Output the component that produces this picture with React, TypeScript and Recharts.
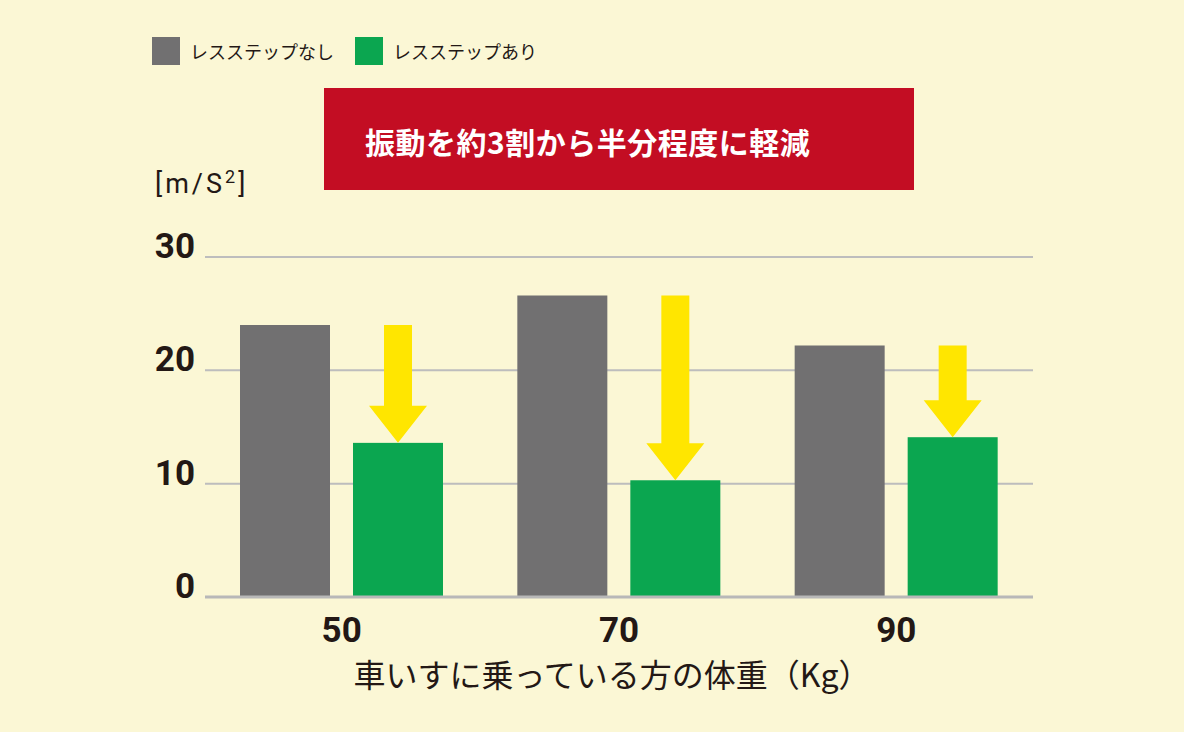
import { BarChart, Bar, XAxis, YAxis, CartesianGrid, Legend, Customized } from 'recharts';

const weights = ['50', '70', '90'];
const withoutStep = [24.0, 26.6, 22.2];
const withStep = [13.6, 10.3, 14.1];
const yTicks = [0, 10, 20, 30];

const seriesNames = ['レスステップなし', 'レスステップあり'];
const headline = '振動を約3割から半分程度に軽減';
const xTitle = '車いすに乗っている方の体重（Kg）';

const data = weights.map((w, i) => ({
  weight: w,
  without: withoutStep[i],
  with: withStep[i],
}));

const BG = '#FBF7D5';
const GRAY = '#717071';
const GREEN = '#0BA650';
const RED = '#C30D23';
const YELLOW = '#FFE600';
const INK = '#231815';
const JP = '"Noto Sans CJK JP", sans-serif';
const NUM = 'Roboto, "Noto Sans CJK JP", sans-serif';

const YTick = (props: any) => {
  const { y, payload } = props;
  return (
    <text x={195} y={y + 1} textAnchor='end' fontFamily={NUM} fontWeight={700} fontSize={35} fill={INK}>
      {payload.value}
    </text>
  );
};

const XTick = (props: any) => {
  const { x, y, payload } = props;
  return (
    <text x={x} y={y + 43} textAnchor='middle' fontFamily={NUM} fontWeight={700} fontSize={35} fill={INK}>
      {payload.value}
    </text>
  );
};

// green bar plus the yellow arrow dropping from the gray bar's top
const GreenWithArrow = (props: any) => {
  const { x, y, width, height, payload } = props;
  const v = payload.with;
  const bottom = y + height;
  const perUnit = height / v;
  const from = bottom - payload.without * perUnit;
  const cx = x + width / 2;
  const headH = 37;
  const shaft = 14;
  const head = 29;
  const pts = [
    [cx - shaft, from],
    [cx + shaft, from],
    [cx + shaft, y - headH],
    [cx + head, y - headH],
    [cx, y],
    [cx - head, y - headH],
    [cx - shaft, y - headH],
  ]
    .map((p) => p.join(','))
    .join(' ');
  return (
    <g>
      <rect x={x} y={y} width={width} height={height} fill={GREEN} />
      <polygon points={pts} fill={YELLOW} />
    </g>
  );
};

const LegendBox = () => (
  <div style={{ display: 'flex', alignItems: 'center', fontFamily: JP, fontSize: 18, color: INK }}>
    {seriesNames.map((n, i) => (
      <div key={n} style={{ display: 'flex', alignItems: 'center', marginRight: 21 }}>
        <span style={{ width: 28, height: 28, background: i === 0 ? GRAY : GREEN, marginRight: 10 }} />
        <span>{n}</span>
      </div>
    ))}
  </div>
);

const Extras = () => (
  <g>
    <rect x={324} y={88} width={590} height={102} fill={RED} />
    <text x={365} y={141} dominantBaseline='central' fontFamily={JP} fontWeight={700} fontSize={30} letterSpacing={0.5} fill='#fff'>
      {headline}
    </text>
    <text x={155} y={193} fontFamily={NUM} fontSize={27} letterSpacing={3} fill={INK}>
      [m/S<tspan fontSize={18} dy={-10}>2</tspan>
      <tspan dy={10}>]</tspan>
    </text>
  </g>
);

const App = () => {
  return (
    <div style={{ position: 'absolute', left: 0, top: 0, width: 1184, height: 732, background: BG }}>
      <BarChart
        width={1184}
        height={732}
        data={data}
        margin={{ top: 257, right: 151, bottom: 0, left: 0 }}
        barSize={90}
        barGap={23}
      >
        <CartesianGrid vertical={false} stroke='#BDBDBD' strokeWidth={2} />
        <XAxis
          dataKey='weight'
          height={135}
          padding={{ left: -2, right: -2 }}
          tickLine={false}
          tickSize={0}
          axisLine={{ stroke: '#B8B8B8', strokeWidth: 3 }}
          tick={<XTick />}
          label={{
            content: (p: any) => {
              const vb = p.viewBox;
              return (
                <text x={612} y={vb.y + 90} textAnchor='middle' fontFamily={JP} fontSize={32} fill={INK}>
                  {xTitle}
                </text>
              );
            },
          }}
        />
        <YAxis
          width={205}
          domain={[0, 30]}
          ticks={yTicks}
          tickLine={false}
          axisLine={false}
          tick={<YTick />}
        />
        <Legend
          layout='vertical'
          verticalAlign='middle'
          align='center'
          wrapperStyle={{ top: 37, left: 152, width: 500, height: 28 }}
          content={<LegendBox />}
        />
        <Bar dataKey='without' fill={GRAY} isAnimationActive={false} />
        <Bar dataKey='with' fill={GREEN} shape={<GreenWithArrow />} isAnimationActive={false} />
        <Customized component={<Extras />} />
      </BarChart>
    </div>
  );
};

export default App;
